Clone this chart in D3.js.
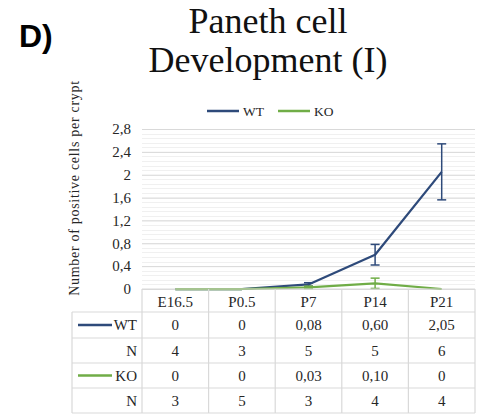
<!DOCTYPE html>
<html>
<head>
<meta charset="utf-8">
<script src="https://cdn.jsdelivr.net/npm/d3@7"></script>
<style>
body { margin: 0; background: #fff; }
text { font-family: "Liberation Serif", serif; fill: #262626; }
</style>
</head>
<body>
<div id="chart"></div>
<script>
var categories = ['E16.5', 'P0.5', 'P7', 'P14', 'P21']
var wtValues = [0, 0, 0.08, 0.60, 2.05]
var wtErr = [0, 0, 0.03, 0.18, 0.49]
var wtN = [4, 3, 5, 5, 6]
var koValues = [0, 0, 0.03, 0.10, 0]
var koErr = [0, 0, 0.02, 0.09, 0]
var koN = [3, 5, 3, 4, 4]
var yTicks = [0, 0.4, 0.8, 1.2, 1.6, 2, 2.4, 2.8]

var WT_COLOR = '#2e4a7a', KO_COLOR = '#70ad47', GRID = '#d9d9d9'

var W = 486, H = 417
var svg = d3.select('#chart').append('svg').attr('width', W).attr('height', H)

var x = d3.scaleBand().domain(categories).range([142, 475])
var y = d3.scaleLinear().domain([0, 2.8]).range([289, 129])

var comma = d3.formatLocale({decimal: ',', thousands: '.', grouping: [3], currency: ['', '']})
var tickFmt = function(d){ return comma.format('~g')(d) }
var cellFmt = function(d){ return d === 0 ? '0' : comma.format('.2f')(d) }

// title + panel letter
svg.append('text').text('D)').attr('x', 19).attr('y', 47)
  .style('font-family', '"Liberation Sans", sans-serif').style('font-weight', 'bold')
  .style('font-size', '32px').style('fill', '#000')
svg.selectAll('text.title').data(['Paneth cell', 'Development (I)']).enter().append('text')
  .attr('class', 'title').text(d => d)
  .attr('x', 268).attr('y', (d, i) => 33 + i * 39)
  .attr('text-anchor', 'middle').style('font-size', '36px').style('fill', '#111')

// minor + major gridlines
var minor = d3.range(0, 2.8001, 0.08)
svg.append('g').selectAll('line').data(minor).enter().append('line')
  .attr('x1', 142).attr('x2', 475)
  .attr('y1', d => Math.round(y(d)) + 0.5).attr('y2', d => Math.round(y(d)) + 0.5)
  .attr('stroke', '#f0f0f0').attr('stroke-width', 1)

var yAxis = d3.axisLeft(y).tickValues(yTicks).tickFormat(tickFmt).tickSize(-333).tickPadding(11)
var gy = svg.append('g').attr('transform', 'translate(142,0)').call(yAxis)
gy.select('.domain').remove()
gy.selectAll('.tick line').attr('stroke', GRID)
gy.selectAll('.tick text').style('font-family', '"Liberation Serif", serif').style('font-size', '15px').attr('fill', '#262626')

// y label
svg.append('text').text('Number of positive cells per crypt')
  .attr('transform', 'translate(79,188) rotate(-90)')
  .attr('text-anchor', 'middle').style('font-size', '14px').style('letter-spacing', '0.7px')

// legend
var legend = svg.append('g')
;[['WT', WT_COLOR, 207], ['KO', KO_COLOR, 278]].forEach(function(l){
  legend.append('line').attr('x1', l[2]).attr('x2', l[2] + 32).attr('y1', 111).attr('y2', 111)
    .attr('stroke', l[1]).attr('stroke-width', 2.5)
  legend.append('text').text(l[0]).attr('x', l[2] + 36).attr('y', 115.5).style('font-size', '13.5px')
})

// series
var line = d3.line().x(d => x(d.c) + x.bandwidth() / 2).y(d => y(d.v))
function series(vals, errs, color){
  var pts = vals.map((v, i) => ({c: categories[i], v: v, e: errs[i]}))
  var g = svg.append('g')
  g.append('path').attr('d', line(pts)).attr('fill', 'none').attr('stroke', color)
    .attr('stroke-width', 2.25).attr('stroke-linejoin', 'round')
  var eb = g.selectAll('g.err').data(pts.filter(d => d.e > 0)).enter().append('g')
    .attr('stroke', color).attr('stroke-width', 1.5)
  eb.append('line').attr('x1', d => x(d.c) + x.bandwidth() / 2).attr('x2', d => x(d.c) + x.bandwidth() / 2)
    .attr('y1', d => y(d.v + d.e)).attr('y2', d => y(d.v - d.e))
  ;[1, -1].forEach(function(s){
    eb.append('line').attr('x1', d => x(d.c) + x.bandwidth() / 2 - 4.5).attr('x2', d => x(d.c) + x.bandwidth() / 2 + 4.5)
      .attr('y1', d => y(d.v + s * d.e)).attr('y2', d => y(d.v + s * d.e))
  })
}
series(wtValues, wtErr, WT_COLOR)
series(koValues, koErr, KO_COLOR)

// data table
var rowY = [289, 312, 338, 363, 388, 413]
var rows = [
  {label: 'WT', key: WT_COLOR, cells: wtValues.map(cellFmt)},
  {label: 'N', cells: wtN.map(String)},
  {label: 'KO', key: KO_COLOR, cells: koValues.map(cellFmt)},
  {label: 'N', cells: koN.map(String)}
]
var tbl = svg.append('g').attr('stroke', GRID).attr('stroke-width', 1.2)
rowY.forEach(function(ry, i){
  tbl.append('line').attr('x1', i == 0 ? 142 : 72).attr('x2', 475).attr('y1', ry).attr('y2', ry)
})
x.domain().concat([null]).forEach(function(c){
  var xx = c === null ? 475 : x(c)
  tbl.append('line').attr('x1', xx).attr('x2', xx).attr('y1', 289).attr('y2', 413)
})
tbl.append('line').attr('x1', 72).attr('x2', 72).attr('y1', 312).attr('y2', 413)

svg.append('g').selectAll('text').data(categories).enter().append('text')
  .text(d => d).attr('x', d => x(d) + x.bandwidth() / 2).attr('y', 306.5)
  .attr('text-anchor', 'middle').style('font-size', '15px')

rows.forEach(function(r, i){
  var cy = (rowY[i + 1] + rowY[i + 2]) / 2 + 5
  if (r.key) svg.append('line').attr('x1', 78).attr('x2', 112).attr('y1', cy - 5).attr('y2', cy - 5)
    .attr('stroke', r.key).attr('stroke-width', 2.5)
  svg.append('text').text(r.label).attr('x', 137).attr('y', cy).attr('text-anchor', 'end').style('font-size', '15px')
  svg.append('g').selectAll('text').data(r.cells).enter().append('text')
    .text(d => d).attr('x', (d, j) => x(categories[j]) + x.bandwidth() / 2).attr('y', cy)
    .attr('text-anchor', 'middle').style('font-size', '15px')
})
</script>
</body>
</html>
